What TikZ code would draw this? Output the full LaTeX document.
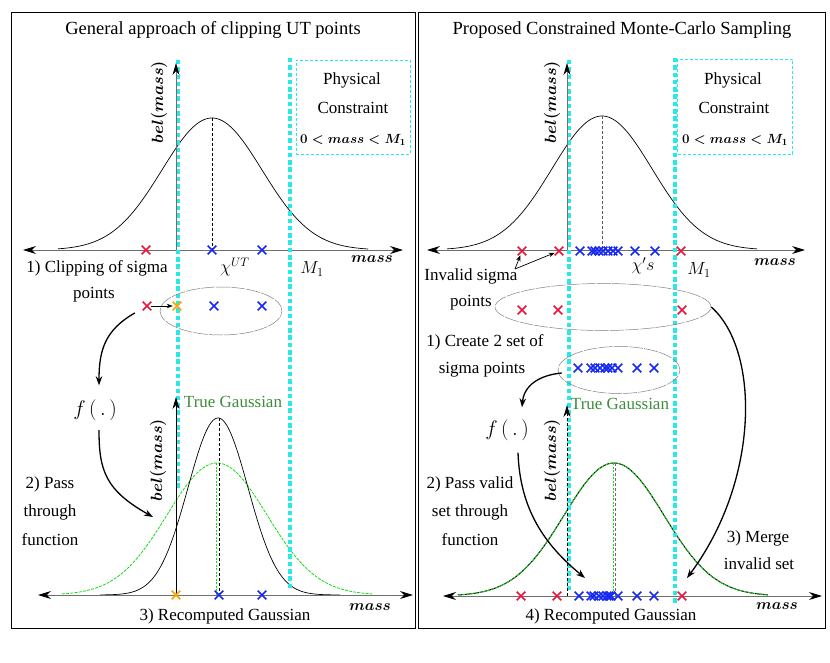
\RequirePackage{fix-cm}
\documentclass[tikz,border=0pt]{standalone}
\usepackage{fontspec}
\setmainfont{Liberation Serif}
\usetikzlibrary{arrows.meta,shapes.misc,shapes.geometric}
\definecolor{cyanl}{RGB}{40,232,232}
\definecolor{cred}{RGB}{232,20,60}
\definecolor{cblue}{RGB}{20,40,240}
\definecolor{corange}{RGB}{255,165,0}
\definecolor{tgreen}{RGB}{60,140,60}
\definecolor{lgreen}{RGB}{20,220,20}
\definecolor{axgray}{RGB}{110,110,110}
\begin{document}
\begin{tikzpicture}[x=1pt,y=-1pt,
  every node/.style={inner sep=0pt},
  txt/.style={font=\fontsize{17}{20}\selectfont},
  ttl/.style={font=\fontsize{18.5}{22}\selectfont},
  mth/.style={font=\fontsize{16.3}{20}\selectfont\boldmath},
  rmth/.style={font=\fontsize{17.5}{21}\selectfont},
  bmth/.style={font=\fontsize{15.3}{18}\selectfont\boldmath},
  cmth/.style={font=\fontsize{13.3}{16}\selectfont\boldmath},
  fmth/.style={font=\fontsize{21}{24}\selectfont},
  cx/.style={cross out,draw=#1,minimum size=7pt,line width=1.6pt},
  cyanline/.style={cyanl,line width=3.6pt,dash pattern=on 4.5pt off 2.8pt},
  axisx/.style={axgray,line width=0.9pt,{Stealth[color=black,length=13pt,width=8pt]}-{Stealth[color=black,length=13pt,width=8pt]}},
  axisy/.style={axgray,line width=0.9pt,-{Stealth[color=black,length=12pt,width=7pt]}},
  gauss/.style={black,line width=0.7pt},
  gdash/.style={lgreen,line width=0.8pt,dash pattern=on 3pt off 1.2pt},
  conn/.style={black,line width=1.3pt,-{Stealth[length=9pt,width=6.5pt]}},
  thinarrow/.style={black,line width=0.7pt,-{Stealth[length=6pt,width=4.5pt]}},
  ell/.style={ellipse,draw=gray,line width=0.5pt,dash pattern=on 14pt off 1.2pt},
  pcbox/.style={draw=cyanl,line width=0.8pt,dash pattern=on 3pt off 2pt},
]
\useasboundingbox (0,0) rectangle (830,663);
% panels
\draw[line width=0.9pt] (11,12) rectangle (415,628);
\draw[line width=0.9pt] (418,12) rectangle (825,628);

%================ LEFT PANEL =================
\node[ttl] (t1) at (213,30) {General approach of clipping UT points};
% top gaussian
\draw[gauss] plot[domain=-154:156,samples=150] ({212+\x},{250-132*exp(-0.5*(\x/50)^2)});
\draw[axisx] (23,250) -- (403,250);
\draw[black,line width=0.8pt,densely dashed] (212,118) -- (212,250);
% bottom gaussians
\draw[gdash] plot[domain=-155:155,samples=150] ({217+\x},{595-132*exp(-0.5*(\x/50)^2)});
\draw[gauss] plot[domain=-118:122,samples=150] ({218+\x},{595-177*exp(-0.5*(\x/30)^2)});
\draw[axisx] (38,595) -- (413,595);
\draw[lgreen,line width=0.8pt,dash pattern=on 2pt off 1.5pt] (216,463) -- (216,595);
\draw[black,line width=0.8pt,densely dashed] (219,418) -- (219,595);
% cyan constraint lines
\draw[cyanline] (178,60) -- (178,488);
\draw[cyanline] (290,58) -- (290,590);
% vertical axes
\draw[axisy] (176,250) -- (176,63);
\draw[black,line width=0.8pt,-{Stealth[length=12pt,width=7pt]}] (176,595) -- (176,397);
% physical constraint box
\node[pcbox,minimum width=114pt,minimum height=94pt] (pc1) at (353,107) {};
\node[txt] (pc1a) at (352,80) {Physical};
\node[txt] (pc1b) at (353,108) {Constraint};
\node[cmth] (pc1c) at (353,140) {$0<mass<M_1$};
% labels
\node[mth,rotate=90] (bel1) at (159,102) {$bel(mass)$};
\node[bmth] (m1) at (372,259) {$mass$};
\node[rmth] (chi1) at (235,267) {$\chi^{UT}$};
\node[rmth] (M1a) at (312,269) {$M_1$};
\node[txt] (s1a) at (97,268) {1) Clipping of sigma};
\node[txt] (s1b) at (94,295) {points};
% crosses top
\node[cx=cred] (lr1) at (146,250) {};
\node[cx=cblue] (lb1) at (212,250) {};
\node[cx=cblue] (lb2) at (262,250) {};
% ellipse row
\node[ell,minimum width=122pt,minimum height=48pt] (le1) at (221,311) {};
\node[cx=cred] (lr2) at (147,306) {};
\node[cx=corange] (lo2) at (177,306) {};
\node[cx=cblue] (lb3) at (214,306) {};
\node[cx=cblue] (lb4) at (262,306) {};
\draw[thinarrow] (lr2) -- (lo2);
% f(.)
\node[fmth,inner ysep=14pt] (f1) at (95,410) {$f\,(\,.\,)$};
\coordinate (l2end) at (153,517);
\draw[conn,shorten <=14pt] (lr2.center) .. controls (105,330) and (99,350) .. (f1.north -| 99,0);
\draw[conn] (99,430) .. controls (99,470) and (105,490) .. (l2end);
\node[txt] (p1a) at (50,484) {2) Pass};
\node[txt] (p1b) at (50,512) {through};
\node[txt] (p1c) at (50,540) {function};
\node[txt,text=tgreen] (tg1) at (233,402) {True Gaussian};
\node[mth,rotate=90] (bel2) at (158,460) {$bel(mass)$};
% bottom crosses
\node[cx=corange] (lo3) at (176,595) {};
\node[cx=cblue] (lb5) at (219,595) {};
\node[cx=cblue] (lb6) at (262,595) {};
\node[bmth] (m2) at (370,607) {$mass$};
\node[txt] (rg1) at (225,616) {3) Recomputed Gaussian};

%================ RIGHT PANEL =================
\node[ttl] (t2) at (622,30) {Proposed Constrained Monte-Carlo Sampling};
\draw[gauss] plot[domain=-155:155,samples=150] ({602+\x},{250-134*exp(-0.5*(\x/50)^2)});
\draw[axisx] (427,250) -- (805,250);
\draw[axgray!80!black,line width=0.8pt,densely dashed] (602,116) -- (602,250);
% bottom gaussian
\draw[gauss,line width=1pt] plot[domain=-156:154,samples=150] ({614+\x},{596-133*exp(-0.5*(\x/50)^2)});
\draw[gdash] plot[domain=-156:154,samples=150] ({614+\x},{596-133*exp(-0.5*(\x/50)^2)});
\draw[axisx] (443,596) -- (822,596);
\draw[lgreen,line width=0.8pt,dash pattern=on 2pt off 1.5pt] (613,463) -- (613,596);
\draw[axgray,line width=0.8pt,densely dashed] (615,463) -- (615,596);
% cyan lines
\draw[cyanline] (569,60) -- (569,590);
\draw[cyanline] (675,58) -- (675,603);
% vertical axes
\draw[axisy] (567,250) -- (567,63);
\draw[black,line width=0.8pt,densely dashed,-{Stealth[length=12pt,width=7pt]}] (567,596) -- (567,405);
% physical constraint box
\node[pcbox,minimum width=115pt,minimum height=95pt] (pc2) at (735,107) {};
\node[txt] (pc2a) at (733,80) {Physical};
\node[txt] (pc2b) at (734,108) {Constraint};
\node[cmth] (pc2c) at (735,140) {$0<mass<M_1$};
% labels
\node[mth,rotate=90] (bel3) at (552,102) {$bel(mass)$};
\node[bmth] (m3) at (775,262) {$mass$};
\node[rmth] (chi2) at (643,266) {$\chi's$};
\node[rmth] (M1b) at (699,270) {$M_1$};
\node[txt] (inv1) at (471,276) {Invalid sigma};
\node[txt] (inv2) at (471,303) {points};
% top crosses
\node[cx=cred] (rr1) at (522,251) {};
\node[cx=cred] (rr2) at (559,251) {};
\node[cx=cred] (rr3) at (681,251) {};
\foreach \px [count=\i] in {580,592,595,599,603,608,613,618,635,655}
  \node[cx=cblue] (rbt\i) at (\px,251) {};
\coordinate (invp) at (515,269);
\draw[thinarrow] (invp) -- (rr1);
\draw[thinarrow] (invp) -- (rr2);
% invalid ellipse
\node[ell,minimum width=216pt,minimum height=47pt] (re1) at (603,307) {};
\node[cx=cred] (rr4) at (522,310) {};
\node[cx=cred] (rr5) at (558,310) {};
\node[cx=cred] (rr6) at (682,310) {};
% valid ellipse
\node[txt] (cr1) at (485,342) {1) Create 2 set of};
\node[txt] (cr2) at (482,370) {sigma points};
\node[ell,minimum width=122pt,minimum height=47pt] (re2) at (619,370) {};
\foreach \px [count=\i] in {578,591,595,600,605,608,612,618,637,654}
  \node[cx=cblue] (rbm\i) at (\px,368) {};
\node[txt,text=tgreen] (tg2) at (620,404) {True Gaussian};
\node[fmth,inner ysep=12pt] (f2) at (507,430) {$f\,(\,.\,)$};
\draw[conn] (re2.west) ++(4,3) .. controls (540,375) and (524,385) .. (f2.north -| 522,0);
\coordinate (r2end) at (585,578);
\draw[conn] (f2.south -| 518,0) .. controls (520,510) and (545,545) .. (r2end);
\coordinate (r3end) at (687,578);
\draw[conn] (re1.east) .. controls (760,350) and (760,480) .. (r3end);
\node[txt] (pv1) at (470,484) {2) Pass valid};
\node[txt] (pv2) at (470,512) {set through};
\node[txt] (pv3) at (470,540) {function};
\node[txt] (mg1) at (758,538) {3) Merge};
\node[txt] (mg2) at (759,564) {invalid set};
\node[mth,rotate=90] (bel4) at (552,460) {$bel(mass)$};
% bottom crosses
\node[cx=cred] (rr7) at (521,596) {};
\node[cx=cred] (rr8) at (557,596) {};
\node[cx=cred] (rr9) at (682,596) {};
\foreach \px [count=\i] in {579,591,594,599,603,607,609,611,618,637,654}
  \node[cx=cblue] (rbb\i) at (\px,596) {};
\node[bmth] (m4) at (777,606) {$mass$};
\node[txt] (rg2) at (611,616) {4) Recomputed Gaussian};
\end{tikzpicture}
\end{document}
